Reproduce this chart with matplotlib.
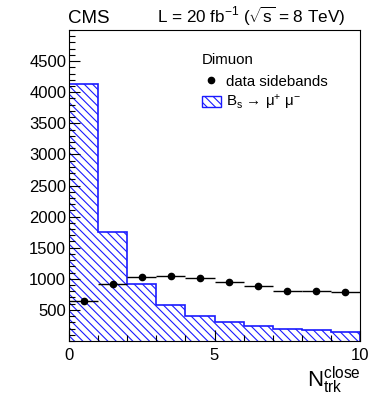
import numpy as np
import matplotlib
matplotlib.use('Agg')
import matplotlib.pyplot as plt
from matplotlib.lines import Line2D
from matplotlib.patches import Patch
from matplotlib.ticker import MultipleLocator

plt.rcParams['font.family'] = ['Liberation Sans', 'DejaVu Sans']
plt.rcParams['mathtext.fontset'] = 'custom'
plt.rcParams['mathtext.rm'] = 'Liberation Sans'
plt.rcParams['mathtext.it'] = 'Liberation Sans:italic'
plt.rcParams['mathtext.sf'] = 'Liberation Sans'
plt.rcParams['hatch.linewidth'] = 0.8

# binning in N_trk^close
edges = np.arange(0, 11)
# B_s -> mu mu signal MC
signal = [4130, 1748, 915, 580, 397, 307, 236, 195, 172, 146]
# data sidebands
data = [647, 912, 1028, 1044, 1005, 951, 891, 805, 805, 795]

blue = '#1a1aff'
hatch = '\\\\\\\\'

fig = plt.figure(figsize=(3.8, 3.96), dpi=100)
ax = fig.add_axes([0.1816, 0.1389, 0.7658, 0.7853])

ax.stairs(signal, edges, fill=True, facecolor='none', edgecolor=blue,
          hatch=hatch, linewidth=1.2)
centers = 0.5 * (edges[:-1] + edges[1:])
ax.errorbar(centers, data, xerr=0.5, fmt='o', color='black', ms=4.5,
            elinewidth=1.0, capsize=0)

ax.set_xlim(0, 10)
ax.set_ylim(0, 5000)
ax.set_yticks([500, 1000, 1500, 2000, 2500, 3000, 3500, 4000, 4500])
ax.set_xticks([0, 5, 10])
ax.xaxis.set_minor_locator(MultipleLocator(1))
ax.yaxis.set_minor_locator(MultipleLocator(100))
ax.tick_params(which='both', direction='in', top=False, right=False,
               labelsize=12, color='black')
ax.tick_params(which='major', length=8, width=0.8)
ax.tick_params(which='minor', length=4, width=0.8)
ax.tick_params(axis='y', pad=2)
ax.tick_params(axis='x', pad=5)

ax.set_xlabel(r'$\mathrm{N}_{\mathrm{trk}}^{\mathrm{close}}$', fontsize=16)
ax.xaxis.set_label_coords(0.91, -0.075, transform=ax.transAxes)

fig.text(0.178, 0.942, 'CMS', fontsize=13.5)
fig.text(0.908, 0.942, r'L = 20 fb$^{-1}$ ($\sqrt{\mathrm{s}}$ = 8 TeV)',
         fontsize=12.3, ha='right')

handles = [Line2D([], [], marker='o', color='black', ls='none', ms=4.5),
           Patch(facecolor='none', edgecolor=blue, hatch=hatch)]
labels = ['data sidebands', 'B$_{\\mathrm{s}}$ \u2192 \u03bc$^{+}$ \u03bc$^{-}$']
leg = ax.legend(handles, labels, title='Dimuon', loc='upper left',
                bbox_to_anchor=(0.43, 0.94), frameon=False, fontsize=10.8,
                title_fontsize=10.8, handlelength=1.3, handletextpad=0.3,
                labelspacing=0.3, borderpad=0)
leg._legend_box.align = 'left'
leg._legend_title_box._text.set_y(0)
leg.get_title().set_position((0, 3))

fig.savefig('out.png', dpi=100)
